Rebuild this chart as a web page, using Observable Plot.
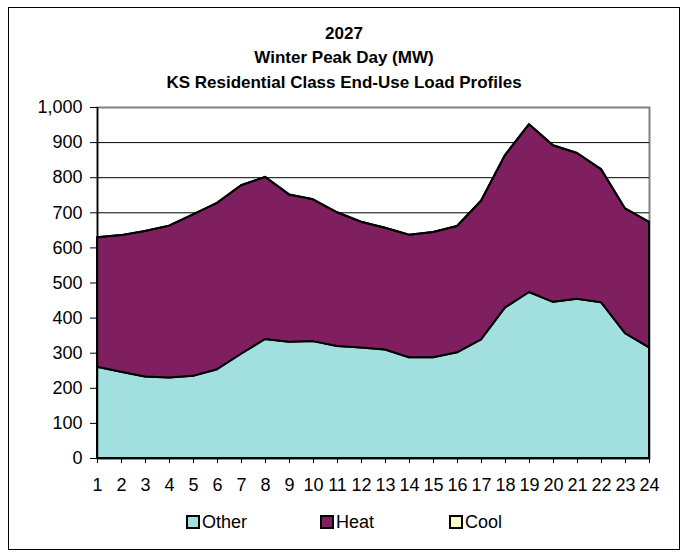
<!DOCTYPE html>
<html>
<head>
<meta charset="utf-8">
<script src="https://cdn.jsdelivr.net/npm/d3@7"></script>
<script src="https://cdn.jsdelivr.net/npm/@observablehq/plot@0.6"></script>
<style>
  html, body { margin: 0; padding: 0; background: #fff; }
  #wrap { position: relative; width: 688px; height: 552px; font-family: "Liberation Sans", Arial, sans-serif; }
  #border { position: absolute; left: 8px; top: 7px; width: 670px; height: 541px; border: 1.5px solid #000; box-sizing: content-box; pointer-events: none; }
  .title { position: absolute; left: 8px; width: 672px; text-align: center; font-weight: bold; font-size: 17px; line-height: 1; color: #000; white-space: nowrap; }
  .leg { position: absolute; top: 513px; font-size: 18px; line-height: 1; color: #000; white-space: nowrap; }
  .leg .box { position: absolute; left: 0; top: 2px; width: 10px; height: 10px; border: 2px solid #000; }
  .leg .lab { position: absolute; left: 16px; top: 0; }
  #chart { position: absolute; left: 0; top: 0; }
</style>
</head>
<body>
<div id="wrap">
  <div id="chart"></div>
  <div id="titles"></div>
  <div id="legend"></div>
  <div id="border"></div>
</div>
<script>
const hours = [1,2,3,4,5,6,7,8,9,10,11,12,13,14,15,16,17,18,19,20,21,22,23,24];
const other = [260,246,232,229,234,253,297,339,331,333,319,315,309,287,287,301,338,429,473,445,454,444,356,315];
const heat  = [369,389,415,433,460,474,480,462,420,404,381,358,347,349,357,360,395,434,478,446,415,379,355,358];
const cool  = [0,0,0,0,0,0,0,0,0,0,0,0,0,0,0,0,0,0,0,0,0,0,0,0];
const seriesNames = ["Other", "Heat", "Cool"];
const seriesColors = ["#A2E0E0", "#7F1F5F", "#FFFFC6"];
const yTicks = [0,100,200,300,400,500,600,700,800,900,1000];
const gridTicks = [100,200,300,400,500,600,700,800,900];
const titleLines = ["2027", "Winter Peak Day (MW)", "KS Residential Class End-Use Load Profiles"];

const seriesValues = [other, heat, cool];
const data = [];
hours.forEach((h, i) => {
  seriesNames.forEach((s, j) => data.push({hour: h, series: s, value: seriesValues[j][i]}));
});

const plot = Plot.plot({
  width: 688,
  height: 552,
  marginLeft: 97,
  marginRight: 39,
  marginTop: 107,
  marginBottom: 94,
  style: {fontFamily: "'Liberation Sans', Arial, sans-serif", fontSize: "18px", color: "#000", background: "transparent", overflow: "visible"},
  x: {domain: [1, 24]},
  y: {domain: [0, 1000]},
  color: {domain: seriesNames, range: seriesColors},
  marks: [
    Plot.frame({stroke: "#808080", strokeWidth: 2}),
    Plot.gridY(gridTicks, {stroke: "#000", strokeOpacity: 1, strokeWidth: 1}),
    Plot.areaY(data, Plot.stackY({
      x: "hour", y: "value", z: "series", fill: "series",
      order: seriesNames,
      stroke: "#000", strokeWidth: 2, strokeLinejoin: "round"
    })),
    Plot.ruleY([0], {stroke: "#000", strokeWidth: 1.5}),
    Plot.ruleX([1], {stroke: "#000", strokeWidth: 1.5}),
    Plot.axisY({ticks: yTicks, tickFormat: d3.format(","), tickSize: 7, tickPadding: 8, label: null, stroke: "#000", fontSize: 18}),
    Plot.axisX({ticks: hours, tickFormat: d => String(d), tickSize: 5, tickPadding: 15, label: null, stroke: "#000", fontSize: 18})
  ]
});
document.getElementById("chart").appendChild(plot);

const baselines = [39, 63, 88];
const titles = document.getElementById("titles");
titleLines.forEach((t, i) => {
  const d = document.createElement("div");
  d.className = "title";
  d.style.top = (baselines[i] - 14.4) + "px";
  d.textContent = t;
  titles.appendChild(d);
});

const legendX = [186, 320, 449];
const legend = document.getElementById("legend");
seriesNames.forEach((s, i) => {
  const item = document.createElement("div");
  item.className = "leg";
  item.style.left = legendX[i] + "px";
  const box = document.createElement("span");
  box.className = "box";
  box.style.background = seriesColors[i];
  const lab = document.createElement("span");
  lab.className = "lab";
  lab.textContent = s;
  item.appendChild(box);
  item.appendChild(lab);
  legend.appendChild(item);
});
</script>
</body>
</html>
